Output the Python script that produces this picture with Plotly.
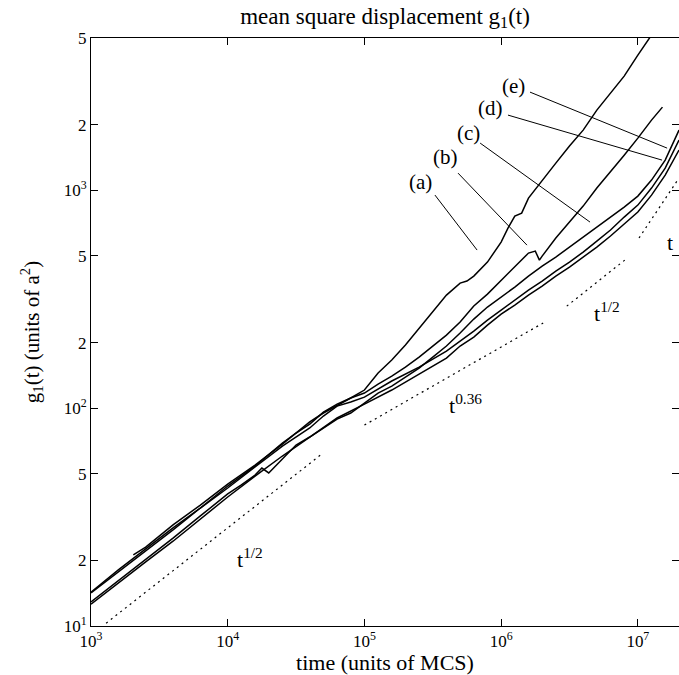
import math
import plotly.graph_objects as go

# ---------------- data ----------------
t_a = [1.0e3, 1.585e3, 2.512e3, 3.981e3, 6.31e3, 1.0e4, 1.585e4, 2.512e4, 3.162e4, 3.981e4,
       5.012e4, 6.31e4, 7.943e4, 1.0e5, 1.259e5, 1.585e5, 1.995e5, 2.512e5, 3.162e5, 3.981e5,
       5.012e5, 5.623e5, 6.31e5, 7.943e5, 1.0e6, 1.122e6, 1.259e6, 1.413e6, 1.585e6, 1.995e6,
       2.512e6, 3.162e6, 3.981e6, 5.012e6, 6.31e6, 7.943e6, 1.0e7, 1.23e7]
g_a = [14.3, 18.1, 22.6, 28.2, 34.8, 43.9, 54.2, 69.2, 76.9, 84.5,
       95.9, 104.4, 111.3, 121.1, 144.9, 166.2, 194.8, 233.2, 279.0, 330.4,
       375.1, 383.1, 403.9, 468.3, 578.4, 670.7, 761.5, 786.1, 920.9, 1114,
       1333, 1596, 1889, 2334, 2793, 3343, 4174, 5050]

t_b = [2.04e3, 2.512e3, 3.981e3, 6.31e3, 1.0e4, 1.585e4, 2.512e4, 3.981e4, 5.012e4, 6.31e4,
       7.943e4, 1.0e5, 1.259e5, 1.585e5, 1.995e5, 2.512e5, 3.162e5, 3.981e5, 5.012e5, 6.31e5,
       7.943e5, 1.0e6, 1.259e6, 1.585e6, 1.778e6, 1.905e6, 1.995e6, 2.512e6, 3.162e6, 3.981e6,
       5.012e6, 6.31e6, 7.943e6, 1.0e7, 1.259e7, 1.514e7]
g_b = [21.2, 23.0, 29.1, 35.9, 44.8, 54.8, 68.4, 86.4, 95.0, 103.3,
       111.3, 117.3, 129.0, 140.4, 154.4, 171.6, 192.8, 216.5, 248.4, 294.2,
       333.9, 387.1, 448.8, 515.0, 526.0, 478.2, 498.9, 603.4, 714.5, 846.1,
       1024, 1212, 1450, 1736, 2100, 2409]

t_c = [1.0e3, 1.585e3, 2.512e3, 3.981e3, 6.31e3, 1.0e4, 1.259e4, 1.585e4, 1.778e4, 1.995e4,
       2.512e4, 3.162e4, 3.981e4, 5.012e4, 6.31e4, 7.943e4, 1.0e5, 1.259e5, 1.585e5, 1.995e5,
       2.512e5, 3.162e5, 3.981e5, 5.012e5, 6.31e5, 7.943e5, 1.0e6, 1.259e6, 1.585e6, 1.995e6,
       2.512e6, 3.162e6, 3.981e6, 5.012e6, 6.31e6, 7.943e6, 1.0e7, 1.259e7, 1.585e7, 2.0e7]
g_c = [12.9, 16.1, 20.1, 25.3, 32.0, 40.4, 44.4, 49.3, 53.1, 50.4,
       58.4, 67.7, 73.7, 81.1, 89.1, 95.0, 105.5, 117.3, 126.3, 138.9,
       152.8, 171.6, 192.8, 221.2, 256.4, 291.1, 323.6, 359.6, 403.9, 448.8,
       493.7, 548.8, 609.8, 677.8, 753.5, 837.3, 940.6, 1114, 1376, 1889]

t_d = [1.0e3, 1.585e3, 2.512e3, 3.981e3, 6.31e3, 1.0e4, 1.585e4, 2.512e4, 3.981e4, 5.012e4,
       6.31e4, 7.943e4, 1.0e5, 1.585e5, 2.512e5, 3.981e5, 6.31e5, 7.943e5, 1.0e6, 1.259e6,
       1.585e6, 1.995e6, 2.512e6, 3.162e6, 3.981e6, 5.012e6, 6.31e6, 7.943e6, 1.0e7, 1.259e7,
       1.585e7, 2.0e7]
g_d = [14.2, 17.7, 22.1, 27.6, 34.8, 43.0, 53.7, 67.0, 81.1, 92.0,
       102.2, 106.7, 112.4, 133.2, 154.4, 182.8, 225.9, 253.7, 281.9, 313.4,
       348.3, 383.1, 425.8, 468.3, 520.4, 584.7, 656.9, 753.5, 855.2, 1024,
       1264, 1700]

t_e = [1.0e3, 1.585e3, 2.512e3, 3.981e3, 6.31e3, 1.0e4, 1.585e4, 2.512e4, 3.981e4, 6.31e4,
       1.0e5, 1.585e5, 2.512e5, 3.981e5, 5.012e5, 6.31e5, 7.943e5, 1.0e6, 1.259e6, 1.585e6,
       1.995e6, 2.512e6, 3.162e6, 3.981e6, 5.012e6, 6.31e6, 7.943e6, 1.0e7, 1.259e7, 1.585e7,
       2.0e7]
g_e = [12.6, 15.8, 19.7, 24.5, 31.0, 39.1, 48.8, 60.3, 73.7, 90.1,
       104.4, 121.1, 143.4, 169.8, 192.8, 212.0, 240.6, 270.3, 297.2, 330.4,
       363.4, 403.9, 444.1, 493.7, 548.8, 616.6, 699.5, 794.3, 950.5, 1174,
       1530]

curve_names = ["(a)", "(b)", "(c)", "(d)", "(e)"]

# label positions and leader lines (t, g)
label_t = [2.55e5, 3.95e5, 5.73e5, 8.43e5, 1.24e6]
label_g = [1090, 1420, 1830, 2384, 3006]
leader_t0 = [3.28e5, 4.84e5, 7.02e5, 1.122e6, 1.626e6]
leader_g0 = [951, 1199, 1647, 2214, 2823]
leader_t1 = [6.67e5, 1.545e6, 4.47e6, 1.503e7, 1.637e7]
leader_g1 = [531.7, 560.3, 714.5, 1376, 1562]

# power-law guide lines
guide_t = [[1.29e3, 4.98e4], [1.0e5, 2.03e6], [3.02e6, 8.05e6], [1.02e7, 2.0e7]]
guide_g = [[10.3, 62.2], [83.6, 246], [294, 479], [604, 1138]]
guide_text = ["t<sup>1/2</sup>", "t<sup>0.36</sup>", "t<sup>1/2</sup>", "t"]
guide_text_t = [1.456e4, 5.53e5, 5.96e6, 1.72e7]
guide_text_g = [20.5, 104, 276, 578]

x_tickvals = [1e3, 1e4, 1e5, 1e6, 1e7]
x_ticktext = ["10<sup>3</sup>", "10<sup>4</sup>", "10<sup>5</sup>", "10<sup>6</sup>", "10<sup>7</sup>"]
y_tickvals = [10, 20, 50, 100, 200, 500, 1000, 2000, 5000]
y_ticktext = ["10<sup>1</sup>", "2", "5", "10<sup>2</sup>", "2", "5", "10<sup>3</sup>", "2", "5"]

# ---------------- figure ----------------
FONT = "Liberation Serif, Times New Roman, serif"
fig = go.Figure()

for tt, gg in zip([t_a, t_b, t_c, t_d, t_e], [g_a, g_b, g_c, g_d, g_e]):
    fig.add_trace(go.Scatter(x=tt, y=gg, mode="lines",
                             line=dict(color="black", width=1.5),
                             showlegend=False, hoverinfo="skip"))

for i in range(5):
    fig.add_trace(go.Scatter(x=[leader_t0[i], leader_t1[i]], y=[leader_g0[i], leader_g1[i]],
                             mode="lines", line=dict(color="black", width=1),
                             showlegend=False, hoverinfo="skip"))
    fig.add_annotation(x=math.log10(label_t[i]), y=math.log10(label_g[i]), xref="x", yref="y",
                       text=curve_names[i], showarrow=False,
                       font=dict(family=FONT, size=21, color="black"))

for gt, gg in zip(guide_t, guide_g):
    fig.add_trace(go.Scatter(x=gt, y=gg, mode="lines",
                             line=dict(color="black", width=1.2, dash="2px,4px"),
                             showlegend=False, hoverinfo="skip"))

for txt, tx, ty in zip(guide_text, guide_text_t, guide_text_g):
    fig.add_annotation(x=math.log10(tx), y=math.log10(ty), xref="x", yref="y",
                       text=txt, showarrow=False,
                       font=dict(family=FONT, size=22, color="black"))

axis_common = dict(type="log", showgrid=False, zeroline=False, showline=True,
                   linecolor="black", linewidth=1, ticks="inside", ticklen=7,
                   tickcolor="black", mirror="ticks",
                   tickfont=dict(family=FONT, size=17, color="black"))

fig.update_xaxes(range=[3, math.log10(2e7)], tickvals=x_tickvals, ticktext=x_ticktext,
                 title=dict(text="time (units of MCS)", font=dict(family=FONT, size=22, color="black"),
                            standoff=2),
                 **axis_common)
fig.update_yaxes(range=[1, 3.6991], tickvals=y_tickvals, ticktext=y_ticktext,
                 title=dict(text="g<sub>1</sub>(t) (units of a<sup>2</sup>)",
                            font=dict(family=FONT, size=21, color="black"), standoff=18),
                 **axis_common)

fig.update_layout(
    width=679, height=675,
    margin=dict(l=91, r=0, t=38, b=49),
    paper_bgcolor="white", plot_bgcolor="white",
    title=dict(text="mean square displacement g<sub>1</sub>(t)", x=0.5, xref="paper",
               y=0.977, yref="container", yanchor="middle",
               font=dict(family=FONT, size=23, color="black")),
)

fig.write_html("out.html", config={"displayModeBar": False},
               post_script="document.body.style.margin='0';")
